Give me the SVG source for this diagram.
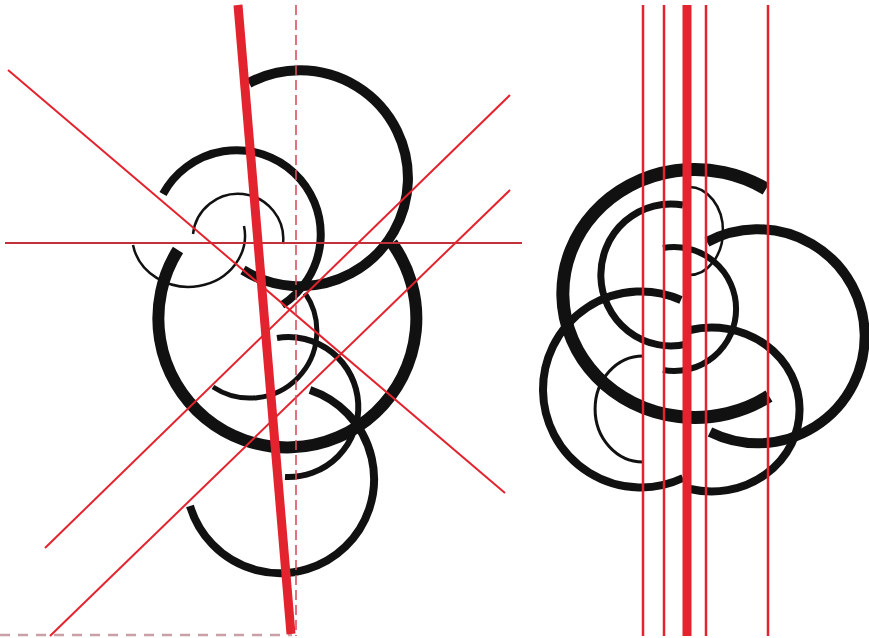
<svg xmlns="http://www.w3.org/2000/svg" width="869" height="638" viewBox="0 0 869 638">
<style>
.k{fill:none;stroke:#111;stroke-linecap:butt}
.r{stroke:#e3232d;fill:none}
</style>
<rect width="869" height="638" fill="#fff"/>
<g id="left-figure">
<path class="k" stroke-width="10" d="M 249,83 A 108 108 0 1 1 243,270"/>
<path class="k" stroke-width="8" d="M 163,194 A 84 84 0 1 1 282,305"/>
<path class="k" stroke-width="2.5" d="M 193,234 A 44 44 0 0 1 283,244"/>
<path class="k" stroke-width="2.5" d="M 133,245 A 55 50 0 1 0 244,226"/>
<path class="k" stroke-width="12" d="M 178,250 A 129 129 0 1 0 392,243"/>
<path class="k" stroke-width="5" d="M 305,293 A 67 67 0 0 1 213,387"/>
<path class="k" stroke-width="6" d="M 277,338 A 70 70 0 1 1 285,477"/>
<path class="k" stroke-width="8" d="M 310,390 A 94 94 0 1 1 190,506"/>
</g>
<g id="right-figure">
<path class="k" stroke-width="13" d="M 766,189 A 132 124 0 1 0 769,396"/>
<path class="k" stroke-width="7" d="M 683,205 A 70 71 0 1 0 687,344"/>
<path class="k" stroke-width="6" d="M 663,248 A 62 62 0 1 1 663,370"/>
<path class="k" stroke-width="2.5" d="M 689,187 A 34 44 0 0 1 689,275"/>
<path class="k" stroke-width="10" d="M 707,242 A 107 107 0 1 1 710,432"/>
<path class="k" stroke-width="8" d="M 681,300 A 98 98 0 1 0 683,478"/>
<path class="k" stroke-width="8" d="M 690,330 A 88 82 0 1 1 690,489"/>
<path class="k" stroke-width="3" d="M 643,356 A 47 52 0 0 0 643,462"/>
</g>
<g id="connectors">
<line x1="5" y1="243" x2="522" y2="243" stroke="#c4303a" stroke-width="2.2"/>
<line class="r" x1="8" y1="70" x2="505" y2="493" stroke-width="2"/>
<line class="r" x1="45" y1="548" x2="510" y2="95" stroke-width="2"/>
<line class="r" x1="50" y1="636" x2="510" y2="190" stroke-width="2"/>
<line x1="296" y1="5" x2="296" y2="636" stroke="#d9505e" stroke-width="1.6" stroke-dasharray="10 5"/>
<line x1="0" y1="635" x2="292" y2="635" stroke="#c9a0a8" stroke-width="2.5" stroke-dasharray="10 8"/>
<line class="r" x1="238" y1="5" x2="291" y2="634" stroke-width="9"/>
<line class="r" x1="643" y1="5" x2="643" y2="636" stroke-width="2.5"/>
<line class="r" x1="664" y1="5" x2="664" y2="636" stroke-width="2.5"/>
<line class="r" x1="687" y1="5" x2="687" y2="636" stroke-width="9"/>
<line class="r" x1="706" y1="5" x2="706" y2="636" stroke-width="2.5"/>
<line class="r" x1="768" y1="5" x2="768" y2="636" stroke-width="2.5"/>
</g>
</svg>
